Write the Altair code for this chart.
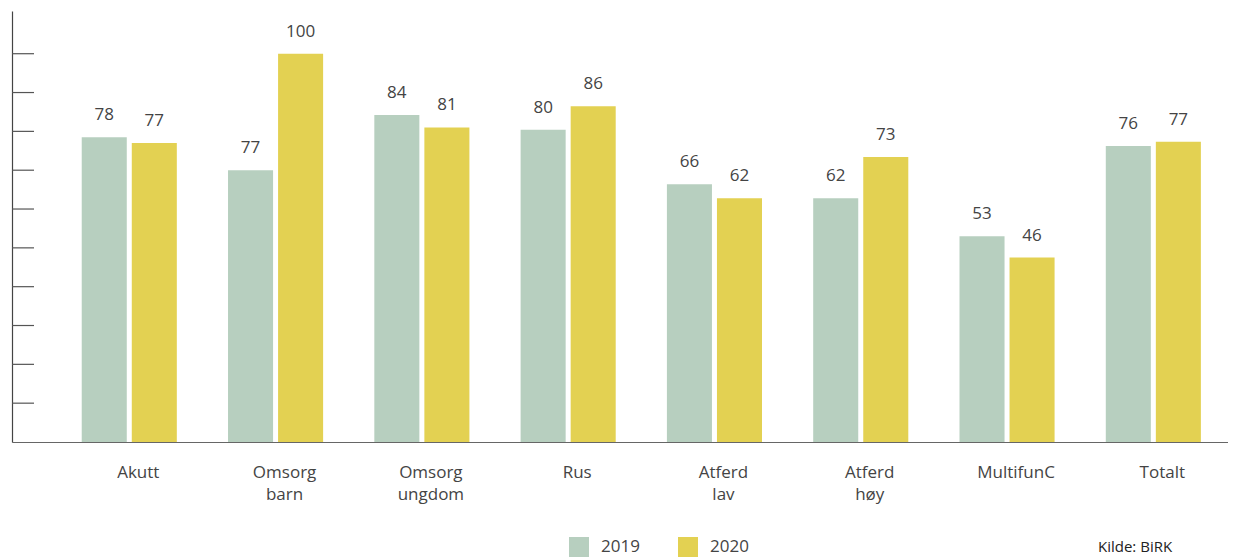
import altair as alt
import pandas as pd

categories = ["Akutt", "Omsorg barn", "Omsorg ungdom", "Rus", "Atferd lav", "Atferd høy", "MultifunC", "Totalt"]
years = ["2019", "2020"]
values_2019 = [78.5, 70, 84.2, 80.4, 66.4, 62.8, 53, 76.2]
values_2020 = [77, 100, 81, 86.5, 62.8, 73.4, 47.5, 77.3]
labels_2019 = ["78", "77", "84", "80", "66", "62", "53", "76"]
labels_2020 = ["77", "100", "81", "86", "62", "73", "46", "77"]
tick_values = [10, 20, 30, 40, 50, 60, 70, 80, 90, 100]
colors = ["#b7cfbf", "#e3d152"]
source_text = ["Kilde: BiRK"]

rows = []
for i, c in enumerate(categories):
    rows.append({"cat": c, "year": "2019", "value": values_2019[i], "label": labels_2019[i]})
    rows.append({"cat": c, "year": "2020", "value": values_2020[i], "label": labels_2020[i]})
df = pd.DataFrame(rows)

FONT = "Open Sans"

x_enc = alt.X(
    "cat:N",
    sort=categories,
    title=None,
    scale=alt.Scale(paddingInner=0.35, paddingOuter=0.331, align=0.72),
    axis=alt.Axis(
        labelAngle=0,
        ticks=False,
        domainColor="#666666",
        domainWidth=1.2,
        labelFont=FONT,
        labelFontSize=17,
        labelColor="#444444",
        labelPadding=22,
        labelOffset=9,
        labelLineHeight=22,
        labelBaseline="top",
        labelExpr="split(datum.label, ' ')",
    ),
)
xoff = alt.XOffset("year:N", sort=years, scale=alt.Scale(paddingInner=0.1, paddingOuter=0))
y_scale = alt.Scale(domain=[0, 111], nice=False)
y_enc = alt.Y(
    "value:Q",
    scale=y_scale,
    title=None,
    axis=alt.Axis(labels=False, ticks=False, grid=False, domainColor="#444444", domainWidth=1.2),
)

bars = alt.Chart(df).mark_bar().encode(
    x=x_enc,
    xOffset=xoff,
    y=y_enc,
    color=alt.Color(
        "year:N",
        sort=years,
        scale=alt.Scale(domain=years, range=colors),
        legend=alt.Legend(
            title=None,
            orient="none",
            legendX=557,
            legendY=526,
            direction="horizontal",
            symbolType="square",
            symbolSize=400,
            symbolStrokeWidth=0,
            symbolOpacity=1,
            labelFont=FONT,
            labelFontSize=17,
            labelColor="#444444",
            labelOffset=12,
            columnPadding=38,
            padding=0,
        ),
    ),
)

texts = alt.Chart(df).mark_text(
    baseline="middle", dy=-22, font=FONT, fontSize=17, color="#444444"
).encode(
    x=alt.X("cat:N", sort=categories),
    xOffset=xoff,
    y=alt.Y("value:Q", scale=y_scale),
    text="label:N",
)

ticks = alt.Chart(pd.DataFrame({"t": tick_values})).mark_rule(color="#555555", strokeWidth=1.2).encode(
    y=alt.Y("t:Q", scale=y_scale),
    x=alt.value(0),
    x2=alt.value(22),
)

source = alt.Chart(pd.DataFrame({"s": source_text})).mark_text(
    align="left", baseline="middle", font=FONT, fontSize=15, color="#222222"
).encode(
    text="s:N",
    x=alt.value(1086),
    y=alt.value(536),
)

chart = alt.layer(bars, texts, ticks, source).properties(
    width=1216,
    height=431,
    padding={"left": 3, "top": 3, "right": 0, "bottom": 0},
    background="white",
).configure_view(stroke=None)

chart.save("out.html", embed_options={"renderer": "svg", "actions": False})
